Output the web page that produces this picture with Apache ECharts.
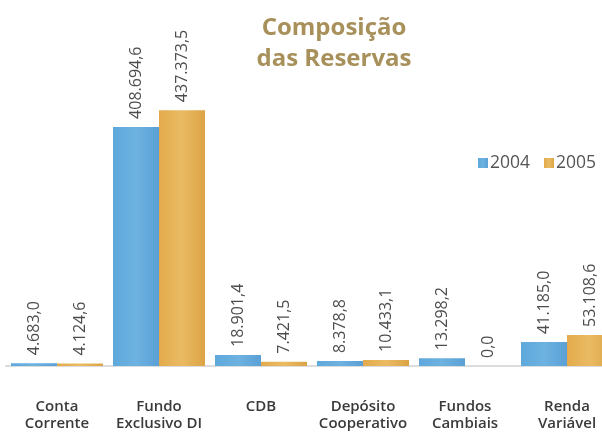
<!DOCTYPE html>
<html>
<head>
<meta charset="utf-8">
<script src="https://cdn.jsdelivr.net/npm/echarts@6/dist/echarts.min.js"></script>
<style>
  html, body { margin: 0; padding: 0; background: #fff; }
  #chart { width: 602px; height: 432px; }
</style>
</head>
<body>
<div id="chart"></div>
<script>
const categories = ['Conta\nCorrente', 'Fundo\nExclusivo DI', 'CDB', 'Depósito\nCooperativo', 'Fundos\nCambiais', 'Renda\nVariável']
const values2004 = [4683.0, 408694.6, 18901.4, 8378.8, 13298.2, 41185.0]
const values2005 = [4124.6, 437373.5, 7421.5, 10433.1, 0.0, 53108.6]

// formato brasileiro: 408.694,6
const fmt = (v) => {
	const parts = v.toFixed(1).split('.')
	return parts[0].replace(/\B(?=(\d{3})+(?!\d))/g, '.') + ',' + parts[1]
}

const barLabel = {
	show: true,
	position: 'top',
	rotate: 90,
	align: 'left',
	verticalAlign: 'middle',
	distance: 8,
	color: '#4d4d4d',
	fontFamily: 'Open Sans',
	fontSize: 16,
	formatter: (p) => fmt(p.value)
}

const chart = echarts.init(document.getElementById('chart'), null, { renderer: 'canvas' })

chart.setOption({
	backgroundColor: '#fff',
	animation: false,
	title: {
		text: 'Composição\ndas Reservas',
		left: 329,
		top: 8,
		textAlign: 'center',
		textStyle: {
			color: '#a8905a',
			fontFamily: 'Open Sans',
			fontWeight: 'bold',
			fontSize: 24,
			lineHeight: 31
		}
	},
	legend: {
		left: 478,
		top: 154,
		width: 124,
		padding: 0,
		orient: 'horizontal',
		itemWidth: 10,
		itemHeight: 10,
		itemGap: 14,
		icon: 'rect',
		textStyle: {
			color: '#555',
			fontFamily: 'Open Sans',
			fontSize: 17.5,
			padding: [0, 0, 0, -3]
		},
		data: ['2004', '2005']
	},
	grid: {
		left: 6,
		width: 612,
		top: 15,
		bottom: 66,
		outerBoundsMode: 'none'
	},
	xAxis: {
		type: 'category',
		data: categories,
		offset: 20,
		axisTick: { show: false },
		axisLine: { lineStyle: { color: '#dcdcdc', width: 2 } },
		axisLabel: {
			margin: 12,
			color: '#3a3a3a',
			fontFamily: 'Open Sans',
			fontWeight: 600,
			fontSize: 15,
			lineHeight: 17,
			interval: 0
		}
	},
	yAxis: {
		type: 'value',
		min: 0,
		max: 600000,
		show: false
	},
	series: [
		{
			name: '2004',
			type: 'bar',
			data: values2004,
			barWidth: 46,
			barGap: '0%',
			itemStyle: {
				color: new echarts.graphic.LinearGradient(0, 0, 1, 0, [
					{ offset: 0, color: '#5ea8dc' },
					{ offset: 0.5, color: '#6db2e0' },
					{ offset: 1, color: '#5aa0d6' }
				])
			},
			label: barLabel
		},
		{
			name: '2005',
			type: 'bar',
			data: values2005,
			barWidth: 46,
			itemStyle: {
				color: new echarts.graphic.LinearGradient(0, 0, 1, 0, [
					{ offset: 0, color: '#e3aa4c' },
					{ offset: 0.5, color: '#eabb63' },
					{ offset: 1, color: '#dca345' }
				])
			},
			label: barLabel
		}
	]
})
</script>
</body>
</html>
